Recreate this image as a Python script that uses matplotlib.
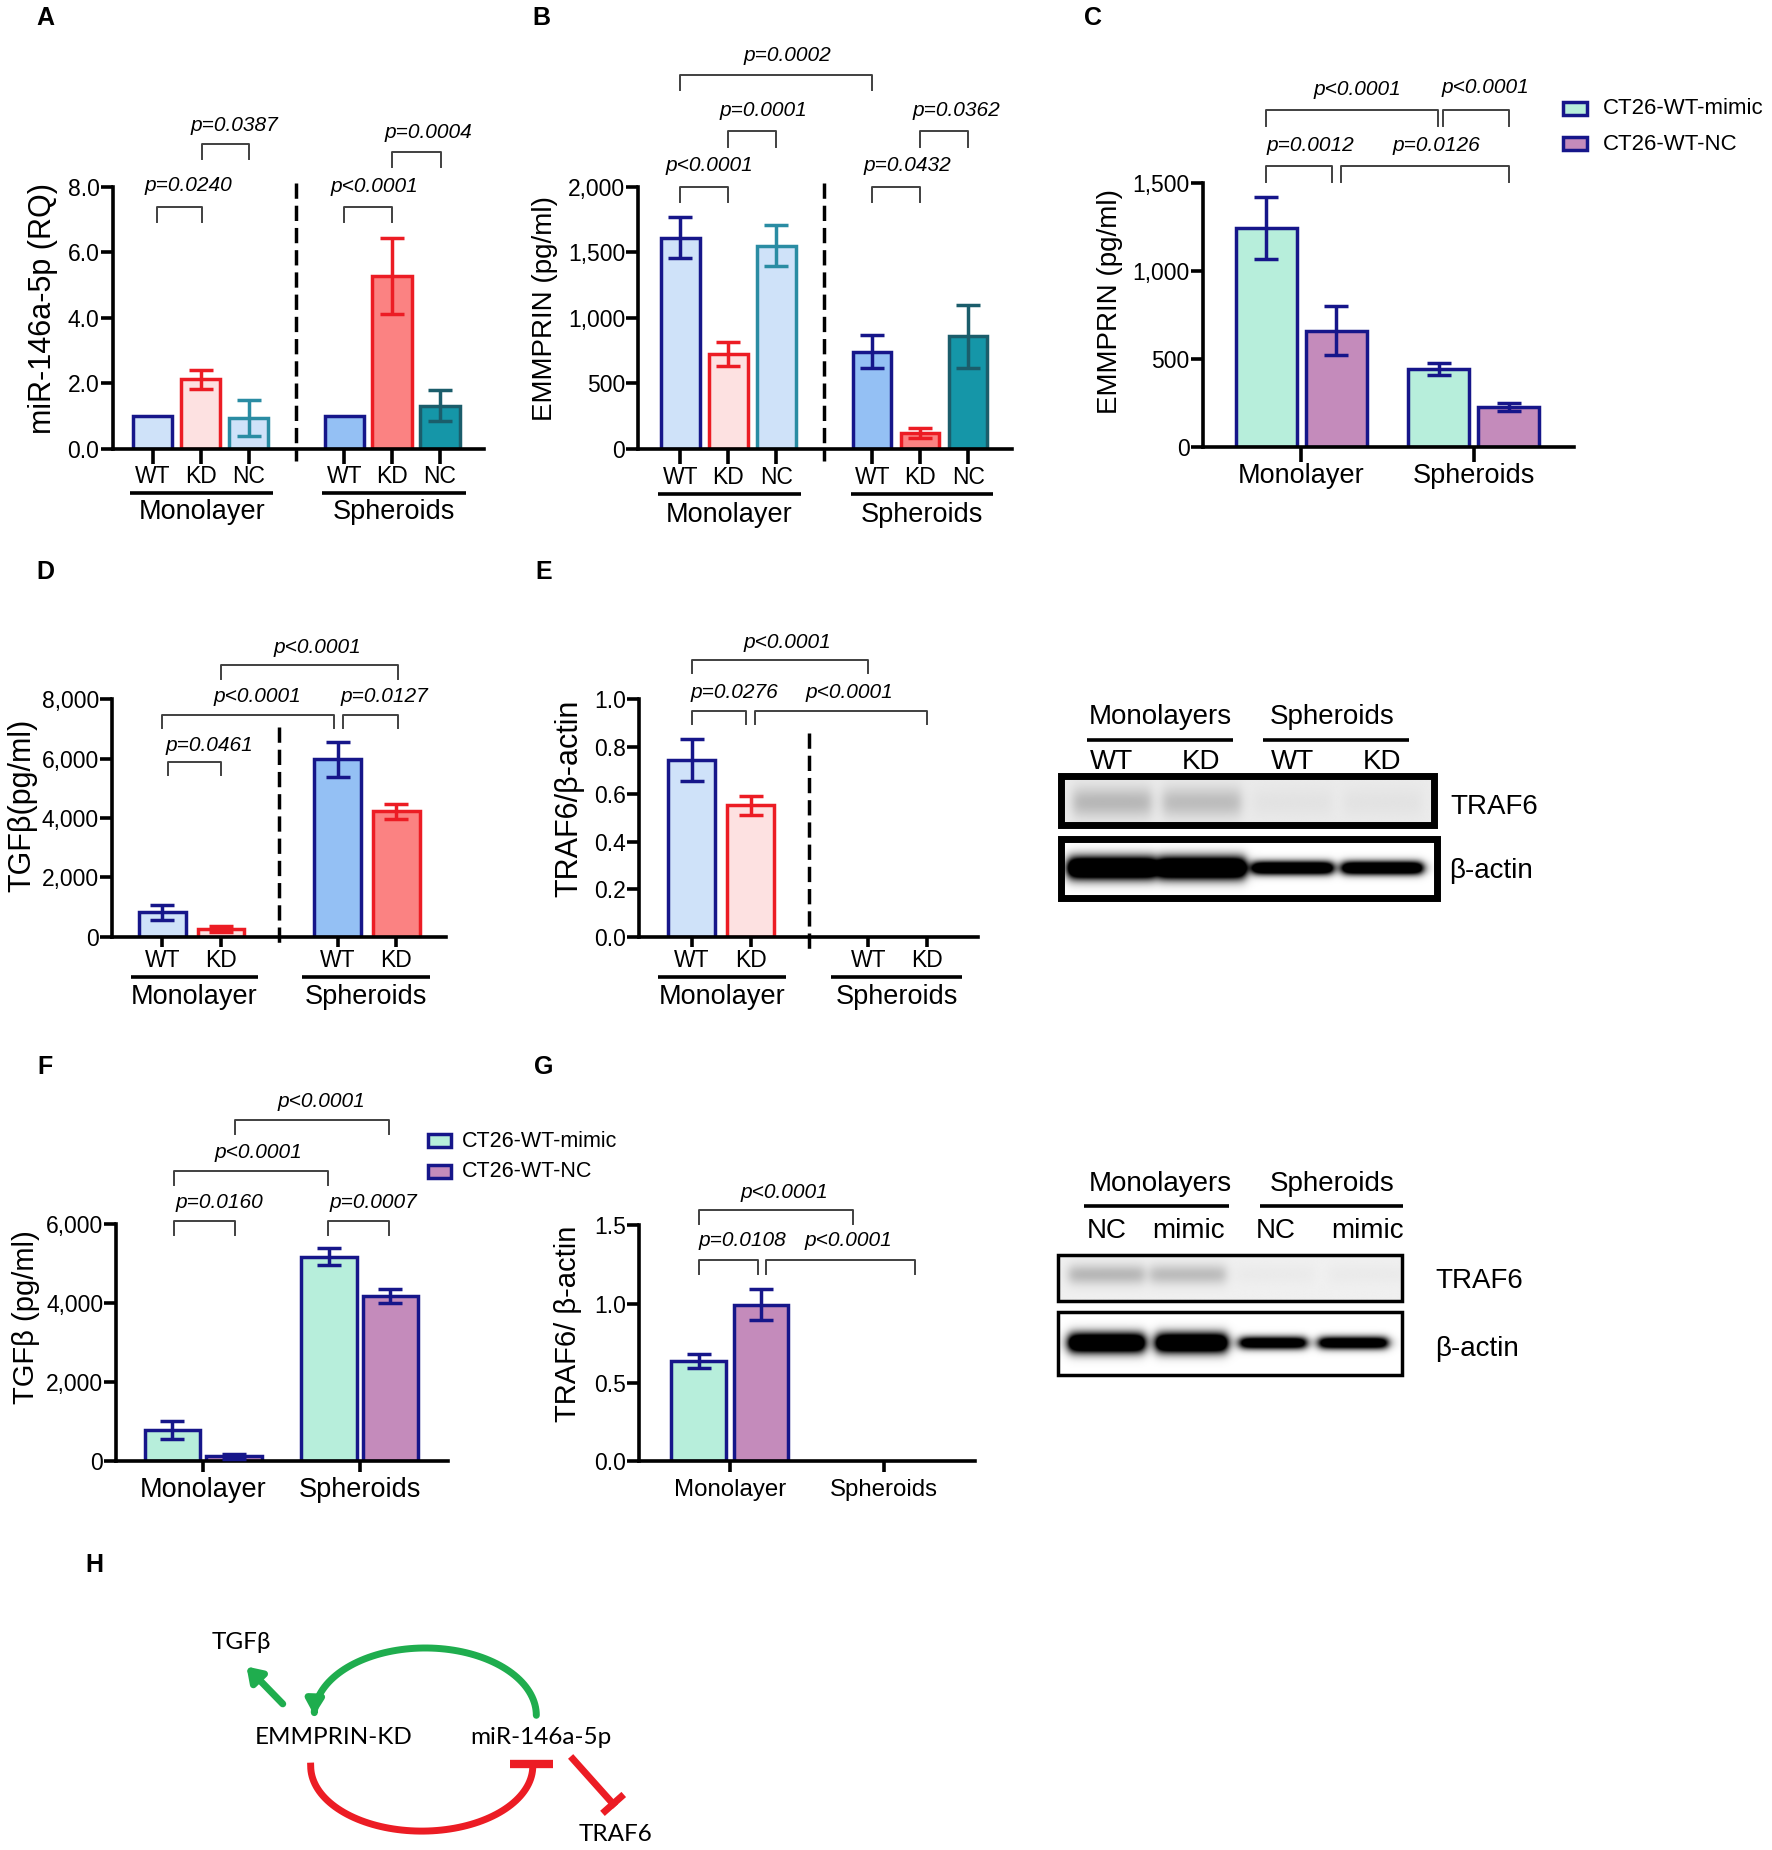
import numpy as np
import matplotlib
matplotlib.use('Agg')
import matplotlib.pyplot as plt
from matplotlib import transforms
from matplotlib.patches import Rectangle, FancyArrowPatch
from matplotlib.path import Path

# ---------------- dados ----------------
# A: miR-146a-5p (RQ)
a_lab = ['WT', 'KD', 'NC']
a_mono = [1.0, 2.12, 0.95]
a_mono_err = [0, 0.28, 0.55]
a_sph = [1.0, 5.28, 1.32]
a_sph_err = [0, 1.15, 0.48]
a_yticks = [0, 2, 4, 6, 8]
a_p = ['p=0.0240', 'p=0.0387', 'p<0.0001', 'p=0.0004']

# B: EMMPRIN (pg/ml)
b_mono = [1610, 725, 1550]
b_mono_err = [155, 90, 155]
b_sph = [740, 120, 860]
b_sph_err = [125, 40, 240]
b_yticks = [0, 500, 1000, 1500, 2000]
b_p = ['p<0.0001', 'p=0.0001', 'p=0.0002', 'p=0.0432', 'p=0.0362']

# C: EMMPRIN mimic / NC
groups = ['Monolayer', 'Spheroids']
series = ['CT26-WT-mimic', 'CT26-WT-NC']
c_mimic = [1245, 440]
c_mimic_err = [175, 35]
c_nc = [660, 225]
c_nc_err = [140, 25]
c_yticks = [0, 500, 1000, 1500]
c_p = ['p=0.0012', 'p=0.0126', 'p<0.0001', 'p<0.0001']

# D: TGFb
d_lab = ['WT', 'KD']
d_mono = [830, 260]
d_mono_err = [250, 110]
d_sph = [5980, 4230]
d_sph_err = [580, 250]
d_yticks = [0, 2000, 4000, 6000, 8000]
d_p = ['p=0.0461', 'p<0.0001', 'p=0.0127', 'p<0.0001']

# E: TRAF6/b-actin
e_mono = [0.745, 0.555]
e_mono_err = [0.088, 0.04]
e_sph = [0, 0]
e_sph_err = [0, 0]
e_yticks = [0, 0.2, 0.4, 0.6, 0.8, 1.0]
e_p = ['p=0.0276', 'p<0.0001', 'p<0.0001']

# F: TGFb mimic / NC
f_mimic = [790, 5170]
f_mimic_err = [230, 220]
f_nc = [130, 4180]
f_nc_err = [60, 180]
f_yticks = [0, 2000, 4000, 6000]
f_p = ['p=0.0160', 'p=0.0007', 'p<0.0001', 'p<0.0001']

# G: TRAF6/b-actin mimic / NC
g_mimic = [0.635, 0]
g_mimic_err = [0.045, 0]
g_nc = [0.995, 0]
g_nc_err = [0.1, 0]
g_yticks = [0, 0.5, 1.0, 1.5]
g_p = ['p=0.0108', 'p<0.0001', 'p<0.0001']

# western blots (intensidade das bandas por canaleta)
e_lanes = ['WT', 'KD', 'WT', 'KD']
e_traf6 = [0.20, 0.18, 0.03, 0.03]
e_actin = [2.0, 2.0, 1.7, 1.7]
g_lanes = ['NC', 'mimic', 'NC', 'mimic']
g_traf6 = [0.22, 0.20, 0.02, 0.02]
g_actin = [1.8, 1.8, 1.5, 1.5]

# cores
NAVY = '#16168a'
RED = '#ec1c24'
TEAL = '#2a8ca3'
DTEAL = '#1b5d6b'
LBLUE = '#cfe2f9'
MBLUE = '#94c0f4'
PINK = '#fde1e1'
SALMON = '#fb8282'
CYAN = '#1596a8'
MINT = '#b7eedb'
MAUVE = '#c48bbb'

plt.rcParams['font.family'] = ['Liberation Sans', 'DejaVu Sans']

W, H = 1500, 1566
fig = plt.figure(figsize=(17.72, 18.5), dpi=100)
ov = fig.add_axes([0, 0, 1, 1])
ov.axis('off')
ov.set_xlim(0, W)
ov.set_ylim(H, 0)


def blend(ax):
    return transforms.blended_transform_factory(ax.transData, ov.transData)


def make_ax(x0, unit, xlim, ypix, ylim, yticks, fmt, xtick_len=11):
    left = x0 + xlim[0] * unit
    right = x0 + xlim[1] * unit
    b, t = ypix
    ax = fig.add_axes([left / W, 1 - b / H, (right - left) / W, (b - t) / H])
    ax.set_xlim(xlim)
    ax.set_ylim(ylim)
    ax.patch.set_visible(False)
    for s in ('top', 'right'):
        ax.spines[s].set_visible(False)
    for s in ('left', 'bottom'):
        ax.spines[s].set_linewidth(2.6)
    ax.tick_params(width=2.6, length=8.5, labelsize=16.5, pad=1)
    ax.tick_params(axis='x', length=xtick_len)
    ax.set_yticks(yticks)
    ax.set_yticklabels([fmt.format(v) for v in yticks])
    return ax


def draw_bars(ax, pos, vals, errs, fcs, ecs, width):
    for p, v, e, fc, ec in zip(pos, vals, errs, fcs, ecs):
        if v <= 0:
            continue
        ax.bar(p, v, width, color=fc, edgecolor=ec, linewidth=2.5, zorder=2)
        if e > 0:
            ax.errorbar(p, v, yerr=e, fmt='none', ecolor=ec, elinewidth=2.5,
                        capsize=8.5, capthick=2.5, zorder=3)


def bracket(ax, x1, x2, y, drop, txt, tx, ty):
    ax.plot([x1, x1, x2, x2], [y - drop, y, y, y - drop], color='#404040',
            lw=1.4, clip_on=False, zorder=4)
    ax.text(tx, ty, txt, ha='center', va='center', fontsize=15,
            style='italic', clip_on=False)


def xlabels(ax, pos, labels, y, fs=16.5):
    ax.set_xticks(pos)
    ax.set_xticklabels([])
    for p, l in zip(pos, labels):
        ax.text(p, y, l, transform=blend(ax), ha='center', va='center', fontsize=fs)


def group_line(ax, x1, x2, y, label, ly, fs=19.5):
    ax.plot([x1, x2], [y, y], transform=blend(ax), color='black', lw=2.6,
            clip_on=False, solid_capstyle='butt')
    ax.text((x1 + x2) / 2, ly, label, transform=blend(ax), ha='center',
            va='center', fontsize=fs)


def dashed(ax, x, y1, y2):
    ax.plot([x, x], [y1, y2], color='black', lw=2.5, ls=(0, (4.4, 2)), clip_on=False)


def ylab(x, y, txt, fs):
    ov.text(x, y, txt, rotation=90, ha='center', va='center', fontsize=fs)


def letter(x, y, s):
    ov.text(x, y, s, ha='center', va='center', fontsize=18, fontweight='bold')


# ---------------- A ----------------
ax = make_ax(129.4, 40.5, (-0.84, 6.92), (380, 158), (0, 8), a_yticks, '{:.1f}')
pos = [0, 1, 2, 4, 5, 6]
draw_bars(ax, pos, a_mono + a_sph, a_mono_err + a_sph_err,
          [LBLUE, PINK, LBLUE, MBLUE, SALMON, CYAN],
          [NAVY, RED, TEAL, NAVY, RED, DTEAL], 0.82)
xlabels(ax, pos, a_lab * 2, 403)
group_line(ax, -0.48, 2.52, 417, groups[0], 433)
group_line(ax, 3.54, 6.54, 417, groups[1], 433)
dashed(ax, 3, 8.1, -0.38)
bracket(ax, 0.08, 1.02, 7.38, 0.46, a_p[0], 0.74, 8.05)
bracket(ax, 1.02, 2.0, 9.3, 0.46, a_p[1], 1.7, 9.87)
bracket(ax, 4.0, 5.0, 7.38, 0.46, a_p[2], 4.62, 8.0)
bracket(ax, 5.0, 6.02, 9.05, 0.46, a_p[3], 5.76, 9.65)
ylab(36, 261, 'miR-146a-5p (RQ)', 22)
letter(38, 15, 'A')

# ---------------- B ----------------
ax = make_ax(576, 40.6, (-0.88, 6.92), (380, 158), (0, 2000), b_yticks, '{:,}')
draw_bars(ax, pos, b_mono + b_sph, b_mono_err + b_sph_err,
          [LBLUE, PINK, LBLUE, MBLUE, SALMON, CYAN],
          [NAVY, RED, TEAL, NAVY, RED, DTEAL], 0.8)
xlabels(ax, pos, a_lab * 2, 404)
group_line(ax, -0.47, 2.52, 418, groups[0], 436)
group_line(ax, 3.55, 6.51, 418, groups[1], 436)
dashed(ax, 3, 2030, -95)
bracket(ax, 0, 1, 2000, 117, b_p[0], 0.61, 2158)
bracket(ax, 1, 2, 2422, 117, b_p[1], 1.72, 2577)
bracket(ax, 0, 4, 2852, 117, b_p[2], 2.24, 3001)
bracket(ax, 4, 5, 2000, 117, b_p[3], 4.74, 2158)
bracket(ax, 5, 6, 2422, 117, b_p[4], 5.75, 2577)
ylab(461, 261, 'EMMPRIN (pg/ml)', 20)
letter(458, 15, 'B')

# ---------------- C ----------------
ax = make_ax(1072, 59.3, (-0.91, 4.39), (378, 155), (0, 1500), c_yticks, '{:,}')
gc = np.array([0.5, 2.96])
draw_bars(ax, gc - 0.5, c_mimic, c_mimic_err, [MINT] * 2, [NAVY] * 2, 0.87)
draw_bars(ax, gc + 0.5, c_nc, c_nc_err, [MAUVE] * 2, [NAVY] * 2, 0.87)
xlabels(ax, gc, groups, 403, 19.5)
bracket(ax, 0, 0.93, 1596, 90, c_p[0], 0.63, 1714)
bracket(ax, 1.06, 3.46, 1596, 90, c_p[1], 2.42, 1714)
bracket(ax, 0, 2.45, 1914, 90, c_p[2], 1.30, 2031)
bracket(ax, 2.52, 3.46, 1914, 90, c_p[3], 3.13, 2045)
ylab(940, 255, 'EMMPRIN (pg/ml)', 20)
letter(925, 15, 'C')
for i, (name, fc) in enumerate(zip(series, [MINT, MAUVE])):
    ov.add_patch(Rectangle((1323, 86 + 30 * i), 20, 11, fc=fc, ec=NAVY, lw=2.5))
    ov.text(1357, 92 + 30 * i, name, ha='left', va='center', fontsize=16)

# ---------------- D ----------------
ax = make_ax(137.5, 49.5, (-0.86, 4.85), (793, 592), (0, 8000), d_yticks, '{:,}',
             xtick_len=7)
pos4 = [0, 1, 3, 4]
draw_bars(ax, pos4, d_mono + d_sph, d_mono_err + d_sph_err,
          [LBLUE, PINK, MBLUE, SALMON], [NAVY, RED, NAVY, RED], 0.8)
xlabels(ax, pos4, d_lab * 2, 813)
group_line(ax, -0.54, 1.64, 827, groups[0], 844)
group_line(ax, 2.39, 4.58, 827, groups[1], 844)
dashed(ax, 2, 7075, -333)
bracket(ax, 0.09, 1.0, 5893, 450, d_p[0], 0.81, 6456)
bracket(ax, 0, 2.93, 7470, 450, d_p[1], 1.62, 8090)
bracket(ax, 3.09, 4.02, 7470, 450, d_p[2], 3.8, 8090)
bracket(ax, 1.0, 4.02, 9150, 450, d_p[3], 2.65, 9758)
ylab(19, 682, 'TGFβ(pg/ml)', 22)
letter(38, 484, 'D')

# ---------------- E ----------------
ax = make_ax(585.5, 49.8, (-0.89, 4.87), (793, 592), (0, 1), e_yticks, '{:.1f}',
             xtick_len=7)
draw_bars(ax, pos4, e_mono + e_sph, e_mono_err + e_sph_err,
          [LBLUE, PINK, MBLUE, SALMON], [NAVY, RED, NAVY, RED], 0.8)
xlabels(ax, pos4, d_lab * 2, 813)
group_line(ax, -0.57, 1.6, 827, groups[0], 844)
group_line(ax, 2.37, 4.6, 827, groups[1], 844)
dashed(ax, 2, 0.86, -0.05)
bracket(ax, 0, 0.92, 0.953, 0.056, e_p[0], 0.72, 1.028)
bracket(ax, 1.07, 4.0, 0.953, 0.056, e_p[1], 2.68, 1.028)
bracket(ax, 0, 3.0, 1.165, 0.056, e_p[2], 1.63, 1.24)
ylab(482, 676, 'TRAF6/β-actin', 22)
letter(460, 484, 'E')

# ---------------- F ----------------
ax = make_ax(146, 52.1, (-0.91, 4.47), (1237, 1036), (0, 6000), f_yticks, '{:,}',
             xtick_len=8)
gf = np.array([0.5, 3.04])
draw_bars(ax, gf - 0.5, f_mimic, f_mimic_err, [MINT] * 2, [NAVY] * 2, 0.9)
draw_bars(ax, gf + 0.5, f_nc, f_nc_err, [MAUVE] * 2, [NAVY] * 2, 0.9)
xlabels(ax, gf, groups, 1261, 19.5)
bracket(ax, 0.02, 1.02, 6084, 354, f_p[0], 0.76, 6548)
bracket(ax, 2.52, 3.52, 6084, 354, f_p[1], 3.26, 6548)
bracket(ax, 0.02, 2.52, 7348, 354, f_p[2], 1.40, 7810)
bracket(ax, 1.02, 3.52, 8629, 354, f_p[3], 2.42, 9100)
ylab(22, 1115, 'TGFβ (pg/ml)', 21)
letter(38, 903, 'F')
for i, (name, fc) in enumerate(zip(series, [MINT, MAUVE])):
    ov.add_patch(Rectangle((362, 960 + 26 * i), 20, 11, fc=fc, ec=NAVY, lw=2.5))
    ov.text(391, 966 + 26 * i, name, ha='left', va='center', fontsize=15.5)

# ---------------- G ----------------
ax = make_ax(592, 52.7, (-0.97, 4.42), (1237, 1037), (0, 1.5), g_yticks, '{:.1f}',
             xtick_len=8)
gg = np.array([0.49, 2.96])
draw_bars(ax, gg - 0.5, g_mimic, g_mimic_err, [MINT] * 2, [NAVY] * 2, 0.88)
draw_bars(ax, gg + 0.5, g_nc, g_nc_err, [MAUVE] * 2, [NAVY] * 2, 0.88)
xlabels(ax, gg, groups, 1261, 17.3)
bracket(ax, 0, 0.94, 1.279, 0.09, g_p[0], 0.69, 1.40)
bracket(ax, 1.07, 3.47, 1.279, 0.09, g_p[1], 2.4, 1.40)
bracket(ax, 0, 2.47, 1.594, 0.09, g_p[2], 1.36, 1.706)
ylab(481, 1121, 'TRAF6/ β-actin', 21)
letter(460, 903, 'G')


# ---------------- western blots ----------------
def blot(x0, x1, y0, y1, lanes, inten, hw, yc, sig, bg, lw):
    xs = np.linspace(x0, x1, 500)
    ys = np.linspace(y0, y1, 120)
    X, Y = np.meshgrid(xs, ys)
    dark = np.full_like(X, bg)
    for c, a, w, s in zip(lanes, inten, hw, sig):
        px = 0.5 * (np.tanh((X - (c - w)) / 5) - np.tanh((X - (c + w)) / 5))
        py = np.exp(-0.5 * ((Y - yc) / s) ** 2)
        dark += a * px * py
    img = 1 - np.clip(dark, 0, 1)
    ov.imshow(img, extent=(x0, x1, y1, y0), cmap='gray', vmin=0, vmax=1,
              aspect='auto', interpolation='bilinear', zorder=1)
    ov.add_patch(Rectangle((x0, y0), x1 - x0, y1 - y0, fill=False, ec='black',
                           lw=lw, zorder=2))


def blot_head(xm, xs, y, lane_x, lane_lab, ly, ul):
    ov.text(xm, y, 'Monolayers', ha='center', va='center', fontsize=20)
    ov.text(xs, y, 'Spheroids', ha='center', va='center', fontsize=20)
    for a, b in ul:
        ov.plot([a, b], [y + 19, y + 19], color='black', lw=2.6, solid_capstyle='butt')
    for x, l in zip(lane_x, lane_lab):
        ov.text(x, ly, l, ha='center', va='center', fontsize=20)


e_x = [941, 1017, 1094, 1170]
blot_head(982, 1128, 607, e_x, e_lanes, 645, [(920, 1044), (1069, 1193)])
blot(898, 1214, 657, 698, e_x, e_traf6, [33] * 4, 679, [9] * 4, 0.08, 5)
blot(898, 1216, 710, 760, e_x, e_actin, [37, 37, 34, 34], 735, [6.5, 6.5, 4, 4], 0.0, 5)
ov.text(1228, 683, 'TRAF6', ha='left', va='center', fontsize=20)
ov.text(1227, 737, 'β-actin', ha='left', va='center', fontsize=20)

g_x = [937, 1006, 1080, 1158]
blot_head(982, 1128, 1002, g_x, g_lanes, 1042, [(918, 1040), (1067, 1188)])
blot(896, 1187, 1062, 1101, g_x, g_traf6, [32] * 4, 1079, [6] * 4, 0.06, 2.5)
blot(896, 1187, 1111, 1164, [937, 1009, 1078, 1146], g_actin, [32, 30, 28, 29], 1137,
     [6, 6, 3.8, 3.8], 0.0, 2.5)
ov.text(1215, 1084, 'TRAF6', ha='left', va='center', fontsize=20)
ov.text(1215, 1142, 'β-actin', ha='left', va='center', fontsize=20)

# ---------------- H: esquema ----------------
GREEN = '#1fad4e'
letter(80, 1325, 'H')
hf = ['Lato', 'DejaVu Sans']
ov.text(204, 1390, 'TGFβ', ha='center', va='center', fontsize=17.5, family=hf)
ov.text(282, 1471, 'EMMPRIN-KD', ha='center', va='center', fontsize=17.5, family=hf)
ov.text(458, 1471, 'miR-146a-5p', ha='center', va='center', fontsize=17.5, family=hf)
ov.text(521, 1553, 'TRAF6', ha='center', va='center', fontsize=17.5, family=hf)

t = np.linspace(0, np.pi, 80)
arc = np.column_stack([360 + 94 * np.cos(t), 1452 - 57 * np.sin(t)])
ov.add_patch(FancyArrowPatch(path=Path(arc), arrowstyle='-|>,head_length=0.6,head_width=0.35',
                             mutation_scale=14, lw=5, color=GREEN))
ov.add_patch(FancyArrowPatch((241, 1444), (207, 1409), arrowstyle='-|>,head_length=0.6,head_width=0.4',
                             mutation_scale=14, lw=5, color=GREEN))
t = np.linspace(np.pi, 2 * np.pi, 80)
ov.plot(357 + 94 * np.cos(t), 1495 - 55 * np.sin(t), color=RED, lw=5)
ov.plot([432, 468], [1493, 1493], color=RED, lw=6, solid_capstyle='butt')
ov.plot([485, 519], [1489, 1527], color=RED, lw=5)
ov.plot([510, 528], [1535, 1519], color=RED, lw=5, solid_capstyle='butt')

ov.set_xlim(0, W)
ov.set_ylim(H, 0)

fig.savefig('out.png', dpi=100)
